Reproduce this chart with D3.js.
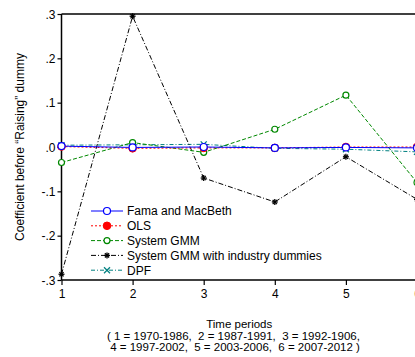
<!DOCTYPE html>
<html><head><meta charset="utf-8">
<script src="https://cdn.jsdelivr.net/npm/d3@7"></script>
<style>html,body{margin:0;padding:0;background:#fff;overflow:hidden}</style>
</head><body><svg id="c" width="415" height="357"></svg>
<script>
const periods = [1, 2, 3, 4, 5, 6];
const yTicks = [-0.3, -0.2, -0.1, 0, 0.1, 0.2, 0.3];
const yTickLabels = ["-.3", "-.2", "-.1", ".0", ".1", ".2", ".3"];
const famaMacBeth = [0.002, -0.001, 0.000, -0.002, -0.001, -0.002];
const ols = [0.001, -0.003, -0.002, -0.002, 0.000, 0.000];
const systemGMM = [-0.035, 0.010, -0.012, 0.040, 0.117, -0.080];
const systemGMMInd = [-0.287, 0.295, -0.070, -0.124, -0.022, -0.118];
const dpf = [0.004, 0.005, 0.006, -0.003, -0.005, -0.011];
const seriesNames = ["Fama and MacBeth", "OLS", "System GMM", "System GMM with industry dummies", "DPF"];
const xTitle = "Time periods";
const noteLines = ["( 1 = 1970-1986,  2 = 1987-1991,  3 = 1992-1906,", " 4 = 1997-2002,  5 = 2003-2006,  6 = 2007-2012 )"];
const yTitle = "Coefficient before \u201CRaising\u201D dummy";

const svg = d3.select("#c");
const font = "'Liberation Sans', Arial, Helvetica, sans-serif";
const L = 61.5, R = 417, T = 14, B = 280;
const x = d3.scaleLinear().domain([1, 6]).range([L, R]);
const y = d3.scaleLinear().domain([-0.3, 0.3]).range([B, T]);

const series = [
  {name: seriesNames[0], vals: famaMacBeth, color: "#0000ff", dash: null, marker: "openCircle", r: 3.5},
  {name: seriesNames[1], vals: ols, color: "#ff0000", dash: "2,2", marker: "filledCircle", r: 3.8},
  {name: seriesNames[2], vals: systemGMM, color: "#008800", dash: "4,2", marker: "openCircle", r: 3},
  {name: seriesNames[3], vals: systemGMMInd, color: "#000000", dash: "5,2,1,2", marker: "star", r: 3},
  {name: seriesNames[4], vals: dpf, color: "#008080", dash: "4,2,1,2", marker: "cross", r: 3}
];

// axes
const xAxis = d3.axisBottom(x).tickValues(periods).tickSize(5).tickFormat(d3.format("d"));
const gx = svg.append("g").attr("transform", `translate(0,${B})`).call(xAxis);
const yAxis = d3.axisLeft(y).tickValues(yTicks).tickSize(4).tickFormat((d, i) => yTickLabels[i]);
const gy = svg.append("g").attr("transform", `translate(${L},0)`).call(yAxis);
[gx, gy].forEach(g => {
  g.select(".domain").remove();
  g.selectAll("line").attr("stroke", "#000").attr("stroke-width", 1.2);
  g.selectAll("text").attr("font-family", font).attr("font-size", 12).attr("fill", "#000");
});
gx.selectAll("text").attr("dy", "0.85em");
gy.selectAll("text").attr("x", -6).attr("dy", "0.35em");

// frame
svg.append("line").attr("x1", L).attr("x2", L).attr("y1", T).attr("y2", B).attr("stroke", "#000").attr("stroke-width", 1.5);
svg.append("line").attr("x1", L).attr("x2", 420).attr("y1", B).attr("y2", B).attr("stroke", "#000").attr("stroke-width", 1.5);
svg.append("line").attr("x1", L).attr("x2", 420).attr("y1", T).attr("y2", T).attr("stroke", "#000").attr("stroke-width", 1.5);

function drawMarker(g, m, cx, cy, color, r) {
  if (m === "openCircle") {
    g.append("circle").attr("cx", cx).attr("cy", cy).attr("r", r).attr("fill", "#fff").attr("stroke", color).attr("stroke-width", 1.2);
  } else if (m === "filledCircle") {
    g.append("circle").attr("cx", cx).attr("cy", cy).attr("r", r).attr("fill", color).attr("stroke", color);
  } else if (m === "star") {
    for (let a = 0; a < 4; a++) {
      const ang = a * Math.PI / 4;
      g.append("line").attr("x1", cx - r * Math.cos(ang)).attr("y1", cy - r * Math.sin(ang))
        .attr("x2", cx + r * Math.cos(ang)).attr("y2", cy + r * Math.sin(ang))
        .attr("stroke", color).attr("stroke-width", 1.3);
    }
  } else if (m === "cross") {
    [[1,1],[1,-1]].forEach(([a,b]) => g.append("line").attr("x1", cx - r*a).attr("y1", cy - r*b)
      .attr("x2", cx + r*a).attr("y2", cy + r*b).attr("stroke", color).attr("stroke-width", 1.3));
  }
}

const line = d3.line().x((d, i) => x(periods[i])).y(d => y(d));
const plot = svg.append("g");
series.slice().reverse().forEach(s => {
  plot.append("path").datum(s.vals).attr("d", line).attr("fill", "none")
    .attr("stroke", s.color).attr("stroke-width", 1).attr("stroke-dasharray", s.dash);
});
series.slice().reverse().forEach(s => {
  s.vals.forEach((v, i) => drawMarker(plot, s.marker, x(periods[i]), y(v), s.color, s.r));
});

// legend
const lg = svg.append("g");
series.forEach((s, i) => {
  const ly = 211 + i * 14.8;
  lg.append("line").attr("x1", 91).attr("x2", 123).attr("y1", ly).attr("y2", ly)
    .attr("stroke", s.color).attr("stroke-width", 1).attr("stroke-dasharray", s.dash);
  drawMarker(lg, s.marker, 107, ly, s.color, s.r);
  lg.append("text").attr("x", 127).attr("y", ly).attr("dy", "0.36em")
    .attr("font-family", font).attr("font-size", 12).text(s.name);
});

// titles
const cx = (L + R) / 2;
svg.append("text").attr("x", cx).attr("y", 328).attr("text-anchor", "middle")
  .attr("font-family", font).attr("font-size", 11.5).text(xTitle);
noteLines.forEach((t, i) => svg.append("text").attr("x", 107).attr("y", 340 + i * 11.3)
  .attr("xml:space", "preserve").style("white-space", "pre")
  .attr("font-family", font).attr("font-size", 11.5).text(t));
svg.append("text").attr("transform", `translate(24,${(T + B) / 2}) rotate(-90)`)
  .attr("text-anchor", "middle").attr("font-family", font).attr("font-size", 12).text(yTitle);
</script></body></html>
